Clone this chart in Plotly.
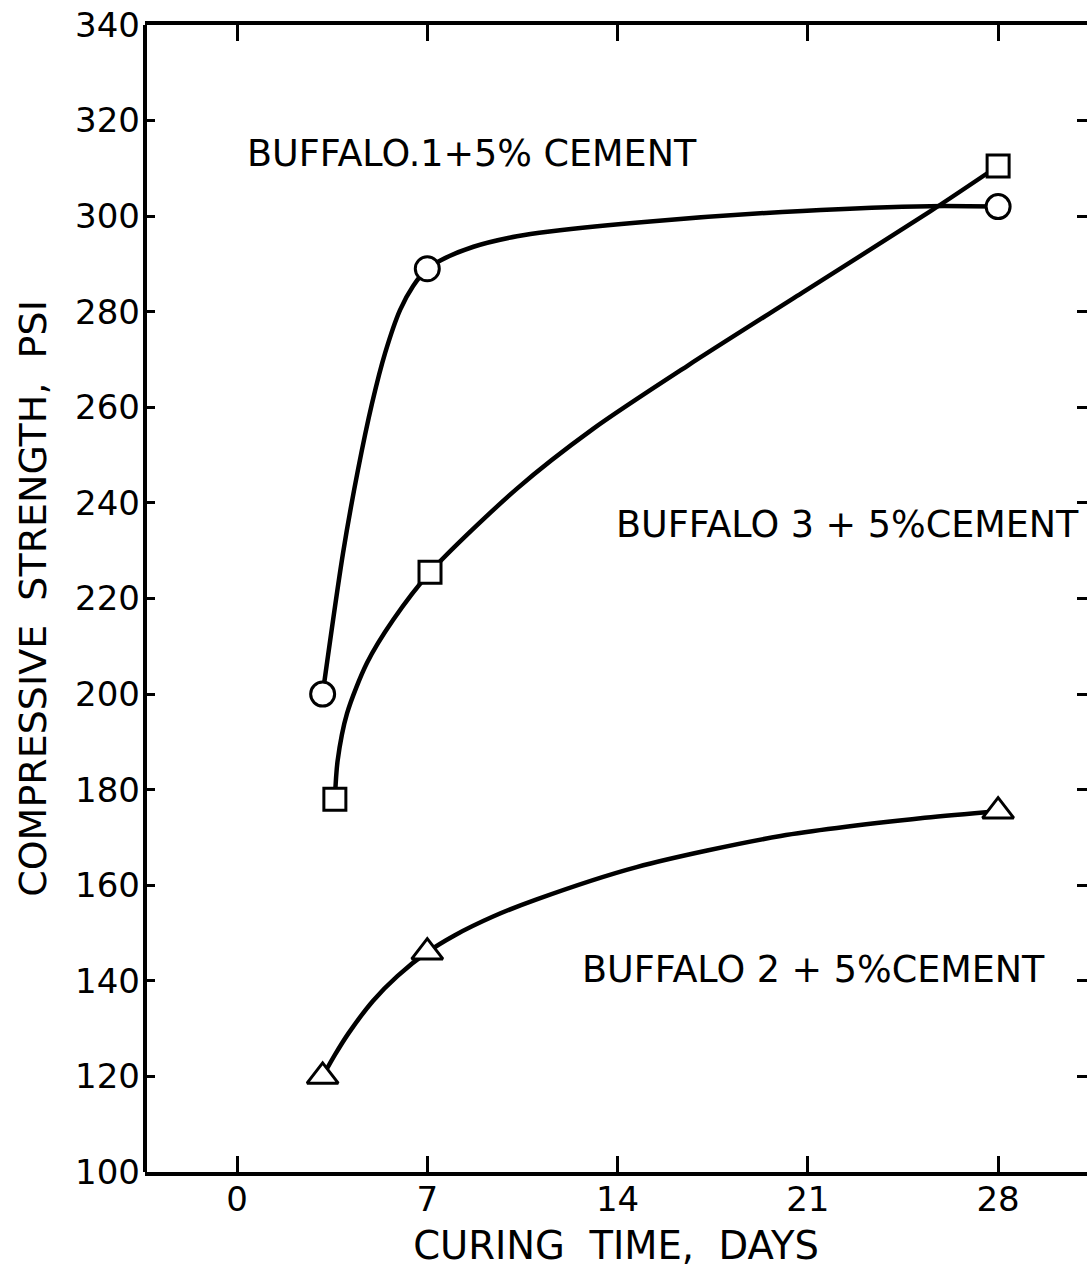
import plotly.graph_objects as go

# Measured strengths (days, psi)
b1_days = [3.15, 7, 28]
b1_psi = [200, 289, 302]
b3_days = [3.6, 7.1, 28]
b3_psi = [178, 225.5, 310.5]
b2_days = [3.15, 7, 28]
b2_psi = [120, 146, 175.5]

# Hand-faired curves through the measurements
b1_curve_days = [3.15, 3.9, 4.45, 4.97, 5.45, 6.0, 6.48, 7, 7.5, 8.7, 10.3, 11.5, 15.2, 20.8, 25.5, 28]
b1_curve_psi = [200, 229.5, 246.9, 260.9, 271.4, 280.4, 285.4, 289, 290.8, 293.6, 295.8, 296.8, 298.9, 301.1, 302.1, 302]
b3_curve_days = [3.6, 3.7, 4.05, 4.78, 5.74, 7.1, 10.3, 13.1, 16.6, 20.8, 25.5, 28]
b3_curve_psi = [178, 186, 196, 206.5, 215.5, 225.5, 243, 255.5, 268.8, 284, 301, 310.5]
b2_curve_days = [3.15, 3.6, 4.1, 5.0, 5.9, 7, 8, 9.4, 11, 14.7, 20.0, 25.3, 28]
b2_curve_psi = [120, 124.5, 129, 135.8, 141, 146, 149.5, 153.4, 157, 163.8, 170.3, 174.1, 175.5]

x_ticks = [0, 7, 14, 21, 28]
y_ticks = [100, 120, 140, 160, 180, 200, 220, 240, 260, 280, 300, 320, 340]

labels = ["BUFFALO.1+5% CEMENT", "BUFFALO 3 + 5%CEMENT", "BUFFALO 2 + 5%CEMENT"]
label_days = [8.65, 22.45, 21.2]
label_psi = [313.2, 235.4, 142.3]

FONT = "DejaVu Sans"
INK = "black"

fig = go.Figure()

for cd, cp in [(b1_curve_days, b1_curve_psi), (b3_curve_days, b3_curve_psi), (b2_curve_days, b2_curve_psi)]:
    fig.add_trace(go.Scatter(x=cd, y=cp, mode="lines",
                             line=dict(color=INK, width=4.5, shape="spline", smoothing=0.8),
                             hoverinfo="skip", showlegend=False))

for d, p, sym, sz in [(b1_days, b1_psi, "circle", 24), (b3_days, b3_psi, "square", 22),
                      (b2_days, b2_psi, "triangle-up", 27)]:
    fig.add_trace(go.Scatter(x=d, y=p, mode="markers",
                             marker=dict(symbol=sym, size=sz, color="white",
                                         line=dict(color=INK, width=3)),
                             showlegend=False))

for t, xd, yp in zip(labels, label_days, label_psi):
    fig.add_annotation(x=xd, y=yp, text=t, showarrow=False, xanchor="center", yanchor="middle",
                       font=dict(family=FONT, size=36.5, color=INK))

tick_font = dict(family=FONT, size=34, color=INK)

fig.update_xaxes(range=[-3.385, 31.27], tickvals=x_ticks, ticks="inside", ticklen=16, tickwidth=2.5,
                 tickcolor=INK, showline=True, linecolor=INK, linewidth=4, mirror="ticks",
                 showgrid=False, zeroline=False, tickfont=tick_font, ticklabelstandoff=-6,
                 title=dict(text="CURING  TIME,  DAYS", font=dict(family=FONT, size=38.5, color=INK), standoff=17))
# left spine drawn separately so the mirrored side only carries tick marks
fig.update_yaxes(range=[100, 340], tickvals=y_ticks, ticks="inside", ticklen=10, tickwidth=2.5,
                 tickcolor=INK, showline=False, mirror="ticks",
                 showgrid=False, zeroline=False, tickfont=tick_font, ticklabelstandoff=4,
                 title=dict(text="COMPRESSIVE  STRENGTH,  PSI", font=dict(family=FONT, size=38, color=INK), standoff=16))
fig.add_shape(type="line", xref="paper", yref="paper", x0=0, x1=0, y0=0, y1=1,
              line=dict(color=INK, width=4), layer="above")

fig.update_layout(width=1087, height=1268, margin=dict(l=145, r=0, t=25, b=96),
                  plot_bgcolor="white", paper_bgcolor="white")

fig.write_html("out.html")
